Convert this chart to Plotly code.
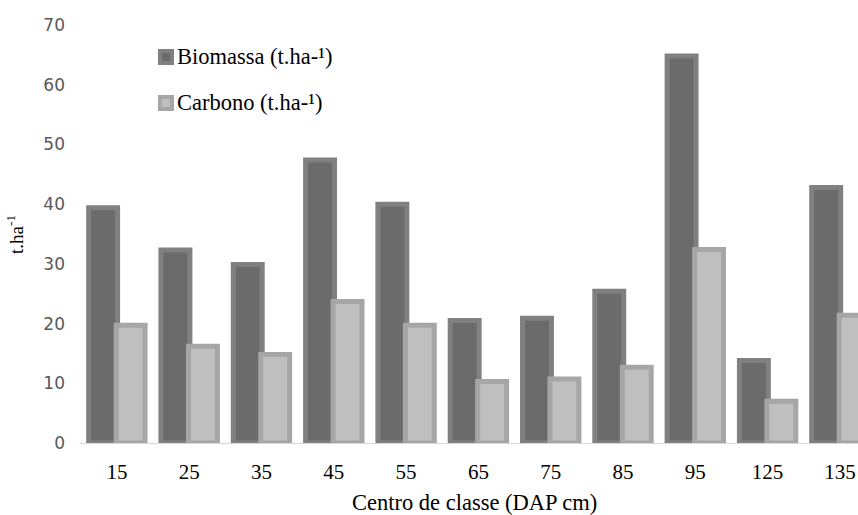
import plotly.graph_objects as go

# Diameter class centres (DAP, cm)
classes = ["15", "25", "35", "45", "55", "65", "75", "85", "95", "125", "135"]
# Biomass and carbon stock per class (t.ha-1)
biomassa = [39.4, 32.3, 29.9, 47.4, 40.0, 20.5, 20.9, 25.4, 64.8, 13.8, 42.8]
carbono = [19.7, 16.2, 14.8, 23.7, 19.7, 10.3, 10.7, 12.7, 32.4, 7.0, 21.4]

bio_fill, bio_line = "#6b6b6b", "#808080"
car_fill, car_line = "#bfbfbf", "#a6a6a6"
serif = "Liberation Serif"

W, H = 858, 515
ML, MR, MT, MB = 80, 0, 25, 72
PW, PH = W - ML - MR, H - MT - MB


def px_x(x):
    return (x - ML) / PW


def px_y(y):
    return (H - MB - y) / PH


fig = go.Figure()
fig.add_trace(go.Bar(
    x=classes, y=biomassa, name="Biomassa (t.ha-¹)",
    width=0.40, offset=-0.39,
    marker=dict(color=bio_fill, line=dict(color=bio_line, width=5)),
    showlegend=False,
))
fig.add_trace(go.Bar(
    x=classes, y=carbono, name="Carbono (t.ha-¹)",
    width=0.40, offset=-0.01,
    marker=dict(color=car_fill, line=dict(color=car_line, width=5)),
    showlegend=False,
))

# Legend: coloured squares with labels
shapes = []
annotations = []
for yc, fill, line, label in [
    (57, bio_fill, bio_line, "Biomassa (t.ha-¹)"),
    (103, car_fill, car_line, "Carbono (t.ha-¹)"),
]:
    shapes.append(dict(
        type="rect", xref="paper", yref="paper",
        x0=px_x(160), x1=px_x(172), y0=px_y(yc + 6), y1=px_y(yc - 6),
        fillcolor=fill, line=dict(color=line, width=4),
    ))
    annotations.append(dict(
        xref="paper", yref="paper", x=px_x(175), y=px_y(yc),
        xanchor="left", yanchor="middle", showarrow=False,
        text=label, font=dict(family=serif, size=22.5, color="#000000"),
    ))

# Axis titles
annotations.append(dict(
    xref="paper", yref="paper", x=px_x(474), y=px_y(502),
    xanchor="center", yanchor="middle", showarrow=False,
    text="Centro de classe (DAP cm)",
    font=dict(family=serif, size=22.5, color="#000000"),
))
annotations.append(dict(
    xref="paper", yref="paper", x=px_x(15), y=px_y(235),
    xanchor="center", yanchor="middle", showarrow=False, textangle=-90,
    text="t.ha<sup>-1</sup>",
    font=dict(family=serif, size=19, color="#000000"),
))

fig.update_layout(
    width=W, height=H,
    margin=dict(l=ML, r=MR, t=MT, b=MB, pad=0),
    paper_bgcolor="white", plot_bgcolor="white",
    barmode="overlay",
    shapes=shapes, annotations=annotations,
    xaxis=dict(
        type="category", range=[-0.51, 10.25],
        showline=True, linecolor="#d9d9d9", linewidth=1,
        showgrid=False, ticks="", zeroline=False,
        tickfont=dict(family=serif, size=21, color="#000000"),
        ticklabelstandoff=10,
    ),
    yaxis=dict(
        range=[0, 70], tickvals=[0, 10, 20, 30, 40, 50, 60, 70],
        showline=False, showgrid=False, zeroline=False, ticks="",
        tickfont=dict(family="DejaVu Sans", size=17, color="#595959"),
        ticklabelstandoff=14,
    ),
)

fig.write_html("out.html")
